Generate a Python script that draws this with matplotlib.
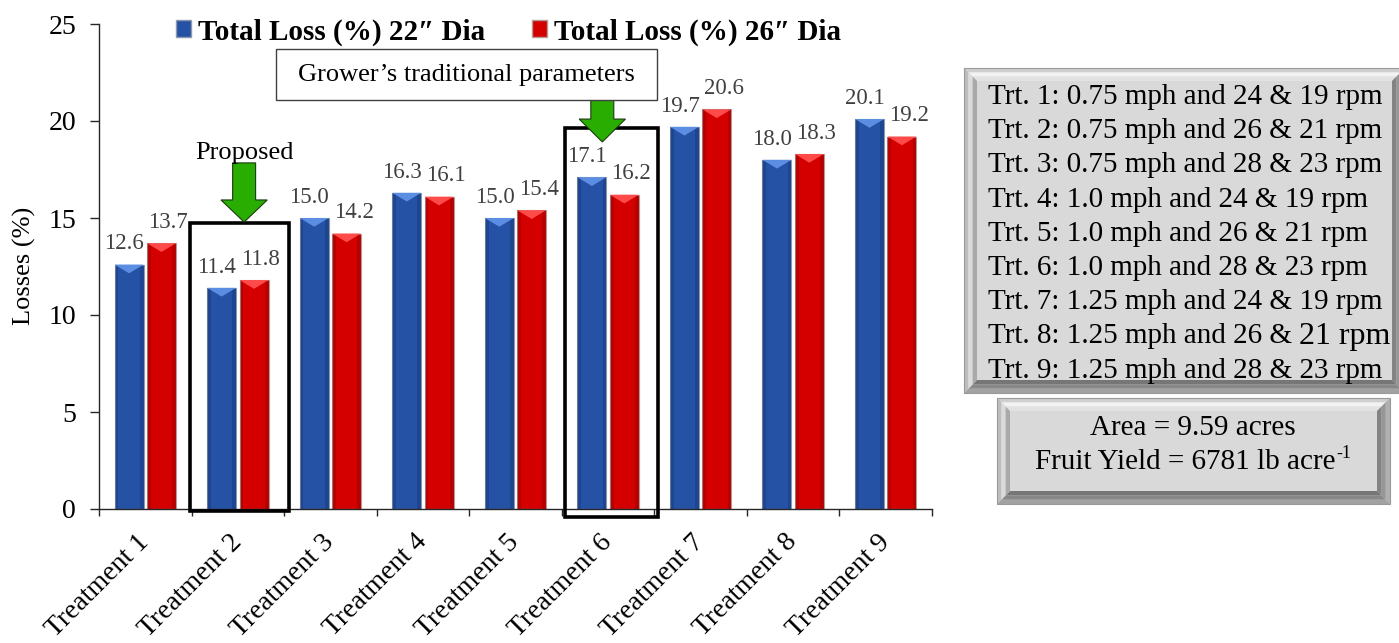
import numpy as np
import matplotlib
matplotlib.use("Agg")
import matplotlib.pyplot as plt
from matplotlib.patches import Polygon, Rectangle, Patch

plt.rcParams['font.family'] = ['Liberation Serif', 'DejaVu Serif']

# ---- data ---------------------------------------------------------------
categories = ['Treatment 1', 'Treatment 2', 'Treatment 3', 'Treatment 4',
              'Treatment 5', 'Treatment 6', 'Treatment 7', 'Treatment 8',
              'Treatment 9']
loss_22 = [12.6, 11.4, 15.0, 16.3, 15.0, 17.1, 19.7, 18.0, 20.1]
loss_26 = [13.7, 11.8, 14.2, 16.1, 15.4, 16.2, 20.6, 18.3, 19.2]
series_names = ['Total Loss (%) 22\u2033 Dia', 'Total Loss (%) 26\u2033 Dia']
y_ticks = [0, 5, 10, 15, 20, 25]
trt_notes = ['Trt. 1: 0.75 mph and 24 & 19 rpm',
             'Trt. 2: 0.75 mph and 26 & 21 rpm',
             'Trt. 3: 0.75 mph and 28 & 23 rpm',
             'Trt. 4: 1.0 mph and 24 & 19 rpm',
             'Trt. 5: 1.0 mph and 26 & 21 rpm',
             'Trt. 6: 1.0 mph and 28 & 23 rpm',
             'Trt. 7: 1.25 mph and 24 & 19 rpm',
             'Trt. 8: 1.25 mph and 26 & ',
             'Trt. 9: 1.25 mph and 28 & 23 rpm']
trt8_tail = '21 rpm'
area_line = 'Area = 9.59 acres'
yield_line = 'Fruit Yield = 6781 lb acre'
yield_unit_exp = '-1'

# ---- figure ---------------------------------------------------------------
W, H = 1399, 643
fig = plt.figure(figsize=(W / 100, H / 100), dpi=100)


def fx(px):
    return px / W


def fy(py):
    return 1 - py / H


ax = fig.add_axes([fx(99), fy(509), (932 - 99) / W, (509 - 24) / H])

BLUE, BLUE_HI = '#2652a6', '#5b8ee2'
RED, RED_HI = '#d40000', '#ff4a4a'

x = np.arange(len(categories))
bw, off = 0.313, 0.175
bars22 = ax.bar(x - off, loss_22, bw, color=BLUE, edgecolor='#8e98ad',
                linewidth=0.8, zorder=2)
bars26 = ax.bar(x + off, loss_26, bw, color=RED, edgecolor='#b59a9a',
                linewidth=0.8, zorder=2)


def shade(bars, hi, dark):
    for b in bars:
        x0, w, top = b.get_x(), b.get_width(), b.get_height()
        ax.add_patch(Rectangle((x0, 0), w * 0.13, top, facecolor=dark,
                               alpha=0.25, edgecolor='none', zorder=2.5))
        ax.add_patch(Rectangle((x0 + w * 0.87, 0), w * 0.13, top,
                               facecolor=dark, alpha=0.25, edgecolor='none',
                               zorder=2.5))
        ax.add_patch(Polygon([(x0, top), (x0 + w, top), (x0 + w / 2, top - 0.45)],
                             closed=True, facecolor=hi, edgecolor='none',
                             zorder=3))


shade(bars22, BLUE_HI, '#0a1f50')
shade(bars26, RED_HI, '#600000')

for bars, vals, dx in ((bars22, loss_22, -3.5), (bars26, loss_26, 5.0)):
    for b, v in zip(bars, vals):
        ax.annotate(f'{v:.1f}', (b.get_x() + b.get_width() / 2, v),
                    xytext=(dx, 11), textcoords='offset points',
                    ha='center', va='baseline', fontsize=16.5, color='#404040')

ax.set_xlim(-0.5, len(categories) - 0.5)
ax.set_ylim(0, 25)
ax.set_yticks(y_ticks)
ax.set_xticks(x)
ax.set_xticklabels(categories, rotation=45, ha='right', va='center',
                   rotation_mode='anchor', fontsize=20)
ax.set_xticks(np.arange(len(categories) + 1) - 0.5, minor=True)
ax.tick_params(axis='x', which='major', length=0, pad=21)
ax.tick_params(axis='x', which='minor', length=5, width=1, color='#262626',
               direction='out')
ax.tick_params(axis='y', length=6.5, width=1, color='#262626', labelsize=20,
               pad=10)
for s in ('top', 'right'):
    ax.spines[s].set_visible(False)
for s in ('left', 'bottom'):
    ax.spines[s].set_color('#262626')
    ax.spines[s].set_linewidth(1)

fig.text(fx(24), fy(266), 'Losses (%)', rotation=90, ha='center',
         va='center', fontsize=19)

# legend
handles = [Patch(facecolor=BLUE, edgecolor='#8e98ad'),
           Patch(facecolor=RED, edgecolor='#b59a9a')]
ax.legend(handles, series_names, loc='center', ncol=2, frameon=False,
          bbox_to_anchor=(fx((178 + 839) / 2), fy(32)),
          bbox_transform=fig.transFigure, handlelength=0.52,
          handleheight=0.52, handletextpad=0.25, columnspacing=1.6,
          prop={'weight': 'bold', 'size': 21})

# highlight frames around treatments 2 and 6
for (x0, x1, y0, y1) in ((0.484, 1.554, -0.1, 14.74),
                         (4.538, 5.543, -0.41, 19.64)):
    ax.add_patch(Rectangle((x0, y0), x1 - x0, y1 - y0, fill=False,
                           edgecolor='black', linewidth=2.6, zorder=4,
                           clip_on=False))


def down_arrow(cx, top, base, tip, shaft_hw=0.124, head_hw=0.25):
    pts = [(cx - shaft_hw, top), (cx + shaft_hw, top), (cx + shaft_hw, base),
           (cx + head_hw, base), (cx, tip), (cx - head_hw, base),
           (cx - shaft_hw, base)]
    ax.add_patch(Polygon(pts, closed=True, facecolor='#28ad00',
                         edgecolor='#1a3a10', linewidth=0.8, zorder=5,
                         clip_on=False))


down_arrow(1.068, 17.84, 15.93, 14.79)
down_arrow(4.938, 21.08, 20.10, 18.92)

ax.text(1.068, 18.35, 'Proposed', ha='center', va='center', fontsize=19,
        zorder=6)

# callout box above treatment 6
fig.patches.append(Rectangle((fx(276), fy(100)), fx(657) - fx(276),
                             fy(49) - fy(100), transform=fig.transFigure,
                             facecolor='white', edgecolor='#404040',
                             linewidth=1, zorder=6))
fig.text(fx(466), fy(75), 'Grower\u2019s traditional parameters',
         ha='center', va='center', fontsize=19, zorder=7)


# ---- bevelled note panels ------------------------------------------------
def bevel_box(x0, y0, x1, y1, b):
    layers = {
        'top': ['#cfcfcf', '#f2f2f2', '#e2e2e2'],
        'left': ['#bdbdbd', '#dadada', '#a9a9a9'],
        'right': ['#b0b0b0', '#969696', '#838383'],
        'bottom': ['#a2a2a2', '#888888', '#767676'],
    }
    n = 3
    fig.patches.append(Rectangle((fx(x0), fy(y1)), fx(x1) - fx(x0),
                                 fy(y0) - fy(y1), transform=fig.transFigure,
                                 facecolor='#d9d9d9', edgecolor='none',
                                 zorder=1))
    for k in range(n):
        a, c = k * b / n, (k + 1) * b / n
        o = [(x0 + a, y0 + a), (x1 - a, y0 + a), (x1 - a, y1 - a), (x0 + a, y1 - a)]
        i = [(x0 + c, y0 + c), (x1 - c, y0 + c), (x1 - c, y1 - c), (x0 + c, y1 - c)]
        sides = {'top': [o[0], o[1], i[1], i[0]],
                 'right': [o[1], o[2], i[2], i[1]],
                 'bottom': [o[2], o[3], i[3], i[2]],
                 'left': [o[3], o[0], i[0], i[3]]}
        for name, pts in sides.items():
            fig.patches.append(Polygon([(fx(px), fy(py)) for px, py in pts],
                                       closed=True, transform=fig.transFigure,
                                       facecolor=layers[name][k],
                                       edgecolor='none', zorder=1))
    fig.patches.append(Rectangle((fx(x0), fy(y1)), fx(x1) - fx(x0),
                                 fy(y0) - fy(y1), transform=fig.transFigure,
                                 fill=False, edgecolor='#9a9a9a',
                                 linewidth=0.8, zorder=1))


bevel_box(964, 68, 1405, 393, 13)
bevel_box(997, 398, 1390, 504, 13)

renderer = fig.canvas.get_renderer()

row_y0, row_dy = 97, 34.2
texts = []
for k, line in enumerate(trt_notes):
    texts.append(fig.text(fx(988), fy(row_y0 + k * row_dy), line, ha='left',
                          va='center', fontsize=21, zorder=3))

bb = texts[7].get_window_extent(renderer)
fig.text(bb.x1 / W, fy(row_y0 + 7 * row_dy), trt8_tail, ha='left',
         va='center', fontsize=23, zorder=3)

fig.text(fx(1193), fy(428), area_line, ha='center', va='center',
         fontsize=21, zorder=3)
# yield line with a raised exponent, centred as a whole
main = fig.text(0, fy(462), yield_line, ha='left', va='center', fontsize=21,
                zorder=3)
sup = fig.text(0, fy(454), yield_unit_exp, ha='left', va='center',
               fontsize=13, zorder=3)
w_main = main.get_window_extent(renderer).width
w_sup = sup.get_window_extent(renderer).width
left = 1193 - (w_main + w_sup) / 2
main.set_x(fx(left))
sup.set_x(fx(left + w_main + 1))

fig.savefig('out.png', dpi=100)
